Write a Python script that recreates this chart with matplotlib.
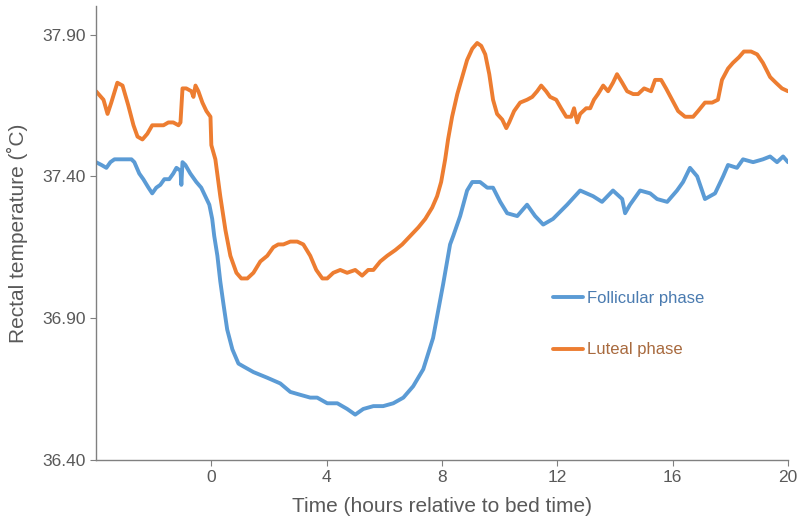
import matplotlib
matplotlib.use("Agg")
import matplotlib.pyplot as plt

plt.rcParams['font.family'] = ['Liberation Sans', 'DejaVu Sans']

# Luteal phase (orange)
t_lut = [-4.0, -3.74, -3.60, -3.47, -3.26, -3.08, -2.88, -2.70, -2.56, -2.39, -2.22, -2.05,
         -1.84, -1.66, -1.49, -1.32, -1.14, -1.07, -1.00, -0.87, -0.69, -0.62, -0.55, -0.45,
         -0.31, -0.17, -0.03, 0.00, 0.14, 0.31, 0.49, 0.66, 0.87, 1.04, 1.25, 1.46, 1.70,
         1.94, 2.15, 2.32, 2.50, 2.74, 2.98, 3.19, 3.43, 3.64, 3.85, 4.02, 4.23, 4.47, 4.71,
         4.99, 5.23, 5.44, 5.62, 5.86, 6.10, 6.38, 6.62, 6.90, 7.18, 7.42, 7.66, 7.83, 7.97,
         8.11, 8.21, 8.35, 8.53, 8.70, 8.87, 9.05, 9.22, 9.36, 9.50, 9.64, 9.77, 9.91, 10.09,
         10.23, 10.33, 10.50, 10.71, 10.95, 11.13, 11.30, 11.44, 11.61, 11.75, 11.96, 12.13,
         12.31, 12.48, 12.58, 12.69, 12.79, 13.00, 13.14, 13.27, 13.41, 13.59, 13.76, 13.93,
         14.07, 14.25, 14.42, 14.63, 14.80, 15.01, 15.25, 15.39, 15.60, 15.77, 15.98, 16.19,
         16.43, 16.71, 16.88, 17.12, 17.37, 17.57, 17.71, 17.92, 18.09, 18.30, 18.47, 18.72,
         18.93, 19.13, 19.38, 19.58, 19.79, 20.0]
temp_lut = [37.70, 37.67, 37.62, 37.66, 37.73, 37.72, 37.65, 37.58, 37.54, 37.53, 37.55, 37.58,
            37.58, 37.58, 37.59, 37.59, 37.58, 37.59, 37.71, 37.71, 37.70, 37.68, 37.72, 37.70,
            37.66, 37.63, 37.61, 37.51, 37.46, 37.33, 37.21, 37.12, 37.06, 37.04, 37.04, 37.06,
            37.10, 37.12, 37.15, 37.16, 37.16, 37.17, 37.17, 37.16, 37.12, 37.07, 37.04, 37.04,
            37.06, 37.07, 37.06, 37.07, 37.05, 37.07, 37.07, 37.10, 37.12, 37.14, 37.16, 37.19,
            37.22, 37.25, 37.29, 37.33, 37.38, 37.46, 37.53, 37.61, 37.69, 37.75, 37.81, 37.85,
            37.87, 37.86, 37.83, 37.76, 37.67, 37.62, 37.60, 37.57, 37.59, 37.63, 37.66, 37.67,
            37.68, 37.70, 37.72, 37.70, 37.68, 37.67, 37.64, 37.61, 37.61, 37.64, 37.59, 37.62,
            37.64, 37.64, 37.67, 37.69, 37.72, 37.70, 37.73, 37.76, 37.73, 37.70, 37.69, 37.69,
            37.71, 37.70, 37.74, 37.74, 37.71, 37.67, 37.63, 37.61, 37.61, 37.63, 37.66, 37.66,
            37.67, 37.74, 37.78, 37.80, 37.82, 37.84, 37.84, 37.83, 37.80, 37.75, 37.73, 37.71,
            37.70]

# Follicular phase (blue)
t_fol = [-4.0, -3.81, -3.64, -3.50, -3.36, -3.15, -2.95, -2.77, -2.67, -2.50, -2.36, -2.18,
         -2.05, -1.91, -1.77, -1.63, -1.46, -1.32, -1.21, -1.07, -1.04, -1.00, -0.90, -0.73,
         -0.52, -0.35, -0.21, -0.07, 0.03, 0.10, 0.21, 0.31, 0.42, 0.55, 0.73, 0.94, 1.11,
         1.46, 1.94, 2.39, 2.74, 3.08, 3.43, 3.67, 4.02, 4.37, 4.71, 4.99, 5.27, 5.62, 5.96,
         6.31, 6.66, 7.00, 7.35, 7.69, 8.04, 8.28, 8.39, 8.63, 8.87, 9.05, 9.32, 9.57, 9.77,
         10.02, 10.26, 10.61, 10.95, 11.23, 11.51, 11.85, 12.34, 12.79, 13.24, 13.55, 13.93,
         14.25, 14.35, 14.52, 14.87, 15.22, 15.46, 15.81, 16.15, 16.36, 16.60, 16.85, 17.12,
         17.47, 17.75, 17.92, 18.23, 18.44, 18.79, 19.13, 19.38, 19.62, 19.83, 20.0]
temp_fol = [37.45, 37.44, 37.43, 37.45, 37.46, 37.46, 37.46, 37.46, 37.45, 37.41, 37.39, 37.36,
            37.34, 37.36, 37.37, 37.39, 37.39, 37.41, 37.43, 37.42, 37.37, 37.45, 37.44, 37.41,
            37.38, 37.36, 37.33, 37.30, 37.25, 37.19, 37.12, 37.03, 36.95, 36.86, 36.79, 36.74,
            36.73, 36.71, 36.69, 36.67, 36.64, 36.63, 36.62, 36.62, 36.60, 36.60, 36.58, 36.56,
            36.58, 36.59, 36.59, 36.60, 36.62, 36.66, 36.72, 36.83, 37.02, 37.16, 37.19, 37.26,
            37.35, 37.38, 37.38, 37.36, 37.36, 37.31, 37.27, 37.26, 37.30, 37.26, 37.23, 37.25,
            37.30, 37.35, 37.33, 37.31, 37.35, 37.32, 37.27, 37.30, 37.35, 37.34, 37.32, 37.31,
            37.35, 37.38, 37.43, 37.40, 37.32, 37.34, 37.40, 37.44, 37.43, 37.46, 37.45, 37.46,
            37.47, 37.45, 37.47, 37.45]

x_ticks = [0, 4, 8, 12, 16, 20]
y_ticks = [36.40, 36.90, 37.40, 37.90]

grey = '#595959'
blue = '#5B9BD5'
orange = '#ED7D31'

fig = plt.figure(figsize=(8, 5.29), dpi=100)
ax = fig.add_axes([0.12, 0.1304, 0.865, 0.858])

ax.plot(t_fol, temp_fol, color=blue, lw=2.8, solid_capstyle='round', solid_joinstyle='round',
        label='Follicular phase')
ax.plot(t_lut, temp_lut, color=orange, lw=2.8, solid_capstyle='round', solid_joinstyle='round',
        label='Luteal phase')

ax.set_xlim(-4, 20)
ax.set_ylim(36.40, 38.0)
ax.set_xticks(x_ticks)
ax.set_yticks(y_ticks)
ax.set_yticklabels(['%.2f' % v for v in y_ticks])

for s in ['top', 'right']:
    ax.spines[s].set_visible(False)
for s in ['left', 'bottom']:
    ax.spines[s].set_color('#808080')
    ax.spines[s].set_linewidth(1.0)
ax.tick_params(colors='#808080', labelcolor=grey, labelsize=12.5, length=4, direction='out')

ax.set_xlabel('Time (hours relative to bed time)', fontsize=15, color=grey, labelpad=8)
ax.set_ylabel('Rectal temperature (˚C)', fontsize=15, color=grey, labelpad=10)

leg = ax.legend(loc='upper left', bbox_to_anchor=(0.66, 0.373), frameon=False,
                borderpad=0, borderaxespad=0,
                handlelength=1.8, handletextpad=0.25, labelspacing=2.2, fontsize=12,
                labelcolor=['#4a7bb0', '#a86a3e'])

fig.savefig('out.png', dpi=100)
